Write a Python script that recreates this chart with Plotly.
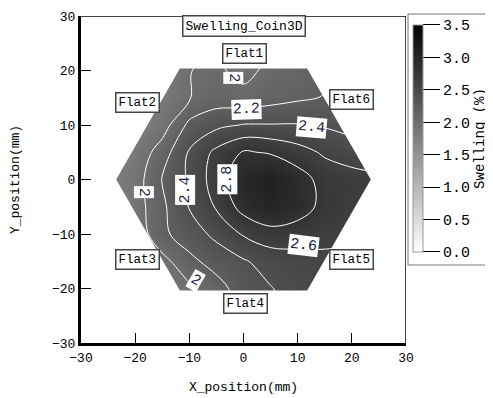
import plotly.graph_objects as go

# ---- data (5 mm grid, mm) ----
x_mm = [-25, -20, -15, -10, -5, 0, 5, 10, 15, 20, 25]
y_mm = [-25, -20, -15, -10, -5, 0, 5, 10, 15, 20, 25]

sw_y_m25 = [1.50, 1.65, 1.78, 1.90, 2.05, 2.25, 2.35, 2.44, 2.46, 2.45, 2.42]
sw_y_m20 = [1.55, 1.70, 1.83, 1.96, 2.12, 2.30, 2.39, 2.48, 2.50, 2.48, 2.45]
sw_y_m15 = [1.60, 1.75, 1.93, 2.15, 2.28, 2.38, 2.48, 2.52, 2.56, 2.57, 2.52]
sw_y_m10 = [1.70, 1.85, 2.16, 2.30, 2.45, 2.62, 2.72, 2.70, 2.65, 2.62, 2.58]
sw_y_m05 = [1.75, 1.90, 2.16, 2.41, 2.62, 2.88, 3.00, 2.90, 2.74, 2.67, 2.64]
sw_y_p00 = [1.75, 1.90, 2.21, 2.43, 2.70, 2.95, 3.05, 2.90, 2.72, 2.68, 2.65]
sw_y_p05 = [1.70, 1.85, 2.10, 2.42, 2.65, 2.82, 2.78, 2.68, 2.57, 2.50, 2.45]
sw_y_p10 = [1.60, 1.75, 1.90, 2.25, 2.35, 2.41, 2.41, 2.41, 2.38, 2.33, 2.30]
sw_y_p15 = [1.60, 1.70, 1.85, 1.99, 2.10, 2.07, 2.12, 2.17, 2.21, 2.25, 2.25]
sw_y_p20 = [1.55, 1.65, 1.80, 1.995, 2.04, 1.93, 2.06, 2.10, 2.15, 2.20, 2.20]
sw_y_p25 = [1.50, 1.60, 1.75, 1.95, 1.98, 1.85, 1.99, 2.05, 2.10, 2.15, 2.15]

swelling = [sw_y_m25, sw_y_m20, sw_y_m15, sw_y_m10, sw_y_m05, sw_y_p00,
            sw_y_p05, sw_y_p10, sw_y_p15, sw_y_p20, sw_y_p25]

contour_levels = [2.0, 2.2, 2.4, 2.6, 2.8]
flat_names = ["Flat1", "Flat2", "Flat3", "Flat4", "Flat5", "Flat6"]
cbar_ticks = [0.0, 0.5, 1.0, 1.5, 2.0, 2.5, 3.0, 3.5]
hex_radius = 23.5  # coin radius (mm)

# ---- layout helpers (positions / styles) ----
FONT = "Liberation Mono"
flat_pos = [(0.1, 23.1), (-19.6, 14.1), (-19.6, -14.6), (0.3, -22.8), (20.0, -14.6), (20.0, 14.7)]
clabel_specs = [  # (text, x, y, angle)
    ("2", -1.9, 18.7, 90), ("2.2", 0.5, 12.8, -2), ("2.4", 12.5, 9.5, 5),
    ("2", -18.3, -2.3, 90), ("2.4", -10.8, -2.0, -90), ("2.8", -2.9, 0.1, -90),
    ("2", -8.9, -18.6, 30), ("2.6", 11.0, -12.1, 7),
]

gray = [[0.0, "rgb(255,255,255)"], [1.0, "rgb(0,0,0)"]]

fig = go.Figure()
fig.add_trace(go.Heatmap(
    x=x_mm, y=y_mm, z=swelling, zmin=0, zmax=3.5, zsmooth="best",
    colorscale=gray, hoverinfo="skip",
    colorbar=dict(
        title=dict(text="Swelling (%)", side="right", font=dict(family=FONT, size=14)),
        tickvals=cbar_ticks, tickformat=".1f", ticks="outside", ticklen=17,
        tickcolor="black", tickfont=dict(family=FONT, size=15, color="black"),
        thickness=10, lenmode="pixels", len=249, yanchor="middle", y=0.6254,
        xanchor="left", x=1.009, xpad=4, ypad=11,
        outlinewidth=1, outlinecolor="#999", bordercolor="#777", borderwidth=1, bgcolor="white",
    ),
))
fig.add_trace(go.Contour(
    x=x_mm, y=y_mm, z=swelling, showscale=False, hoverinfo="skip",
    contours=dict(coloring="none", start=contour_levels[0], end=contour_levels[-1],
                  size=round(contour_levels[1] - contour_levels[0], 3)),
    line=dict(color="white", width=1, smoothing=1.0),
))

# white mask outside the hexagonal coin (one filled polygon per side)
R = hex_radius
h = R * 3 ** 0.5 / 2
polys = [
    [(-31, h), (31, h), (31, 31), (-31, 31)],
    [(-31, -h), (31, -h), (31, -31), (-31, -31)],
    [(-31, h + 2), (-R / 2, h + 2), (-R / 2, h), (-R, 0), (-R / 2, -h), (-R / 2, -h - 2), (-31, -h - 2)],
    [(31, h + 2), (R / 2, h + 2), (R / 2, h), (R, 0), (R / 2, -h), (R / 2, -h - 2), (31, -h - 2)],
]
for p in polys:
    fig.add_trace(go.Scatter(x=[q[0] for q in p] + [p[0][0]], y=[q[1] for q in p] + [p[0][1]],
                             mode="lines", line=dict(width=0, color="white"), fill="toself",
                             fillcolor="white", hoverinfo="skip", showlegend=False))

ann = []
ann.append(dict(x=0.1, y=28.1, text="Swelling_Coin3D", showarrow=False,
                font=dict(family=FONT, size=13, color="black"),
                bgcolor="white", bordercolor="#444", borderwidth=1.5, borderpad=2))
for name, (fx, fy) in zip(flat_names, flat_pos):
    ann.append(dict(x=fx, y=fy, text=name, showarrow=False,
                    font=dict(family=FONT, size=12.5, color="black"),
                    bgcolor="white", bordercolor="#444", borderwidth=1.5, borderpad=2))
for t, cx, cy, ang in clabel_specs:
    ann.append(dict(x=cx, y=cy, text=t, showarrow=False, textangle=ang,
                    font=dict(family=FONT, size=15, color="#1a1f45"),
                    bgcolor="white", borderpad=1))

fig.update_layout(
    width=485, height=390,
    margin=dict(l=73, r=87, t=8, b=55, autoexpand=False),
    paper_bgcolor="white", plot_bgcolor="white",
    font=dict(family=FONT, color="black"),
    showlegend=False,
    annotations=ann,
    shapes=[
        dict(type="line", xref="x", yref="y", x0=-30, y0=30, x1=30, y1=30, line=dict(color="black", width=1.5)),
        dict(type="line", xref="x", yref="y", x0=30, y0=30, x1=30, y1=-30, line=dict(color="black", width=1.5)),
    ],
    xaxis=dict(range=[-30, 30], tickvals=[-30, -20, -10, 0, 10, 20, 30], ticks="inside", ticklen=10,
               tickcolor="black", showgrid=False, zeroline=False, showline=True, linewidth=3,
               linecolor="black", tickfont=dict(family=FONT, size=13),
               title=dict(text="X_position(mm)", font=dict(family=FONT, size=13), standoff=18)),
    yaxis=dict(range=[-30, 30], tickvals=[-30, -20, -10, 0, 10, 20, 30], ticks="inside", ticklen=10,
               tickcolor="black", showgrid=False, zeroline=False, showline=True, linewidth=3,
               linecolor="black", tickfont=dict(family=FONT, size=13),
               title=dict(text="Y_position(mm)", font=dict(family=FONT, size=13), standoff=31)),
)

fig.write_html("out.html")
